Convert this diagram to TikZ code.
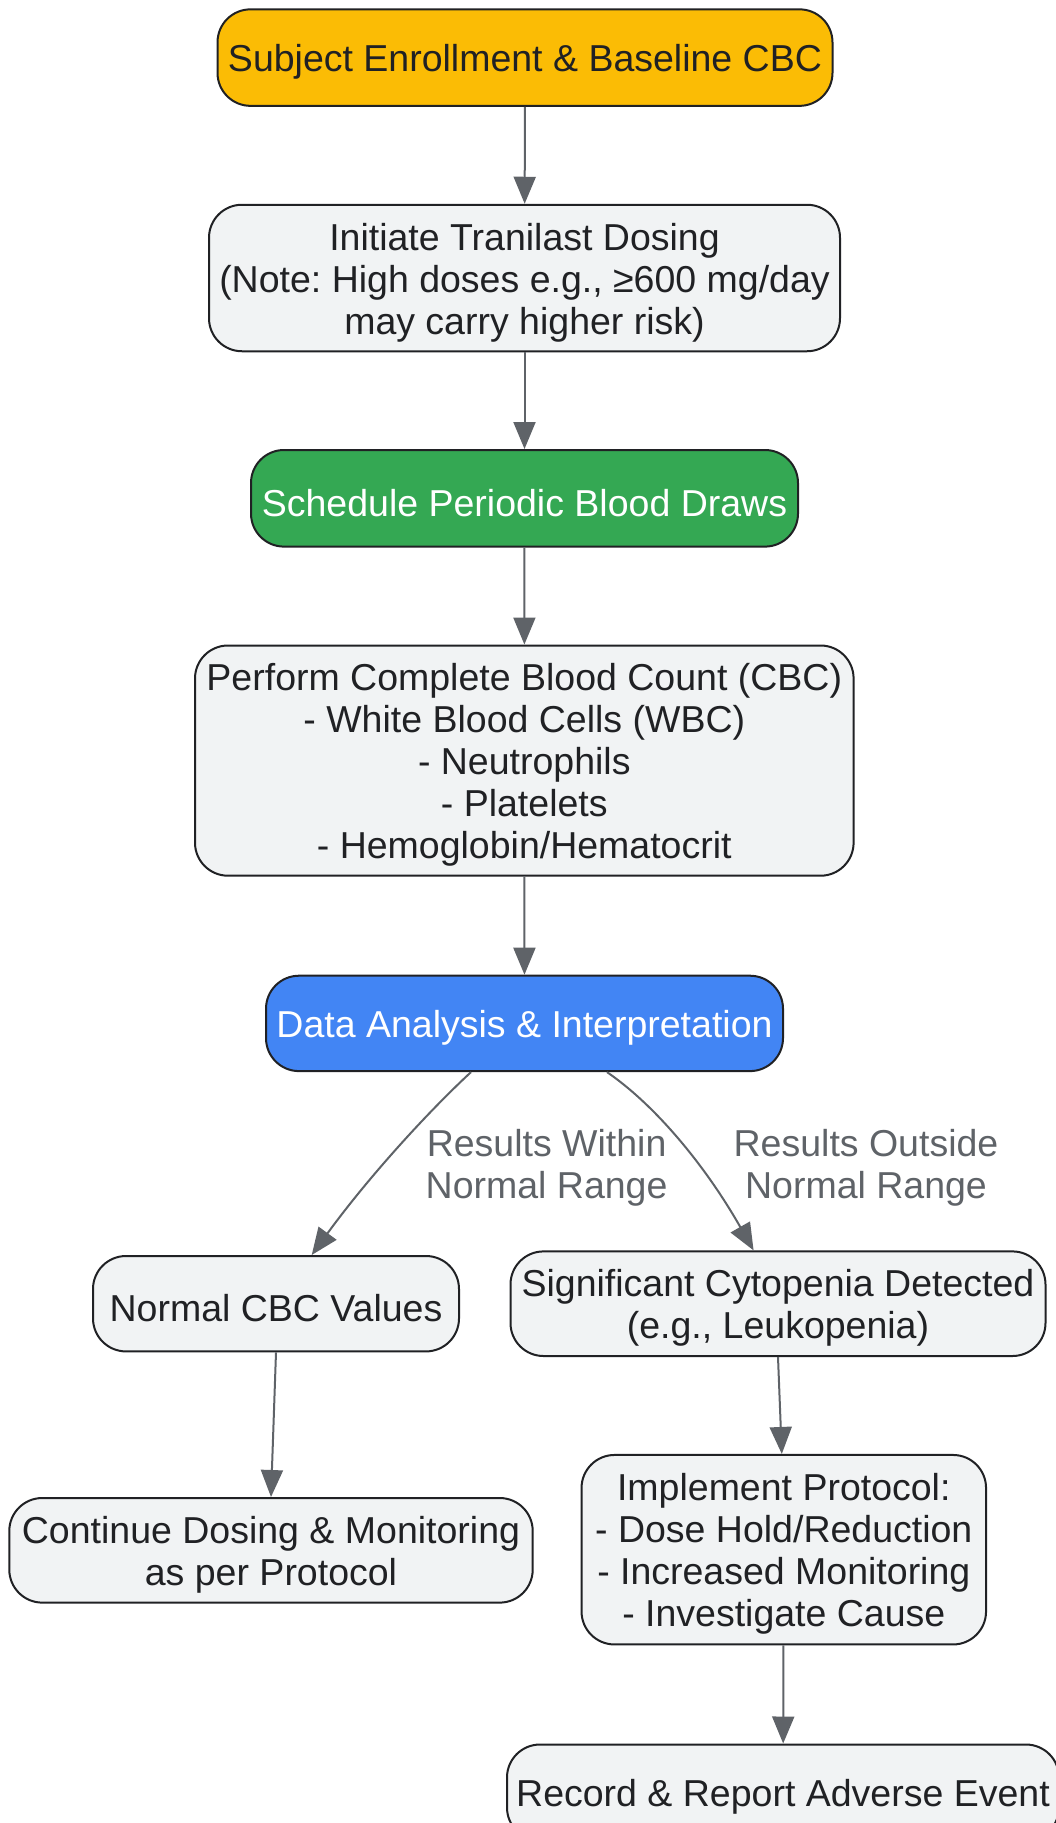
\documentclass[tikz,border=0pt]{standalone}
\usepackage{fontspec}
\setmainfont{Liberation Sans}
\usetikzlibrary{arrows.meta}
\frenchspacing
\definecolor{edgec}{HTML}{5F6368}
\definecolor{boxfill}{HTML}{F1F3F4}
\definecolor{boxline}{HTML}{202124}
\definecolor{yel}{HTML}{FBBC05}
\definecolor{grn}{HTML}{34A853}
\definecolor{blu}{HTML}{4285F4}
\tikzset{
  box/.style={draw=boxline, line width=2pt, fill=boxfill, rounded corners=33pt,
    inner sep=0pt},
  tx/.style={align=center, text=boxline, inner sep=0pt, yshift=-4.5pt,
    font=\fontsize{37.5pt}{42pt}\selectfont\frenchspacing},
  wtx/.style={tx, text=white},
  lbl/.style={align=center, text=edgec, inner sep=0pt,
    font=\fontsize{37.5pt}{42pt}\selectfont},
  arr/.style={draw=edgec, line width=2pt, -{Triangle[length=27pt,width=22pt]}}
}
\begin{document}
\begin{tikzpicture}[x=1pt,y=-1pt]
\useasboundingbox (0,0) rectangle (1056,1823);
\clip (0,0) rectangle (1056,1823);
\node[box, fill=yel, minimum width=615pt, minimum height=96.5pt,
  label={[tx]center:Subject Enrollment \& Baseline CBC}] (n1) at (525,57.6) {};
\node[box, minimum width=631pt, minimum height=146.5pt,
  label={[tx]center:{Initiate Tranilast Dosing\\(Note: High doses e.g., ≥600 mg/day\\may carry higher risk)}}] (n2) at (524.5,278) {};
\node[box, fill=grn, minimum width=547pt, minimum height=96.6pt,
  label={[wtx]center:Schedule Periodic Blood Draws}] (n3) at (524.5,498.3) {};
\node[box, minimum width=658.6pt, minimum height=230.2pt,
  label={[tx]center:{Perform Complete Blood Count (CBC)\\- White Blood Cells (WBC)\\- Neutrophils\\- Platelets\\- Hemoglobin/Hematocrit}}] (n4) at (524.3,760.6) {};
\node[box, fill=blu, minimum width=517pt, minimum height=95.4pt,
  label={[wtx]center:Data Analysis \& Interpretation}] (n5) at (524.5,1023.4) {};
\node[box, minimum width=366pt, minimum height=95.4pt,
  label={[tx]center:Normal CBC Values}] (n6) at (276,1303.7) {};
\node[box, minimum width=535pt, minimum height=104.6pt,
  label={[tx]center:{Significant Cytopenia Detected\\(e.g., Leukopenia)}}] (n7) at (778,1303.7) {};
\node[box, minimum width=523.4pt, minimum height=104.6pt,
  label={[tx]center:{Continue Dosing \& Monitoring\\as per Protocol}}] (n8) at (271,1550.3) {};
\node[box, minimum width=404.5pt, minimum height=189.5pt,
  label={[tx]center:{Implement Protocol:\\- Dose Hold/Reduction\\- Increased Monitoring\\- Investigate Cause}}] (n9) at (783.8,1549.7) {};
\node[box, minimum width=552pt, minimum height=96pt,
  label={[tx]center:Record \& Report Adverse Event}] (n10) at (783,1792.5) {};
\node[lbl] (l1) at (546.6,1168) {Results Within\\Normal Range};
\node[lbl] (l2) at (866,1168) {Results Outside\\Normal Range};
\draw[arr] (n1) -- (n2);
\draw[arr] (n2) -- (n3);
\draw[arr] (n3) -- (n4);
\draw[arr] (n4) -- (n5);
\draw[arr] ([xshift=-53.5pt]n5.south) .. controls (430,1110) and (370,1175) .. ([xshift=35.7pt]n6.north);
\draw[arr] ([xshift=82.5pt]n5.south) .. controls (655,1105) and (705,1165) .. ([xshift=-24.4pt]n7.north);
\draw[arr] (n6.south) -- (n8.north);
\draw[arr] (n7.south) -- ([xshift=-2pt]n9.north);
\draw[arr] (n9) -- (n10);
\end{tikzpicture}
\end{document}
